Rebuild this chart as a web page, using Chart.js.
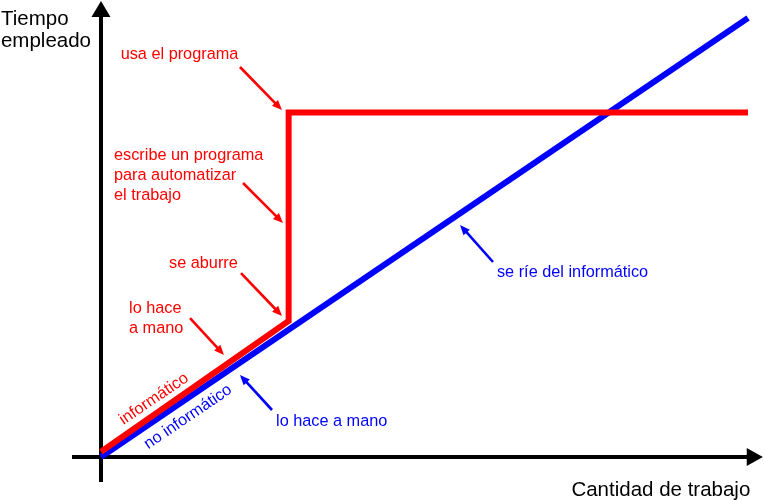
<!DOCTYPE html>
<html><head><meta charset="utf-8">
<script src="https://cdn.jsdelivr.net/npm/chart.js@4/dist/chart.umd.min.js"></script>
<style>html,body{margin:0;padding:0;background:#fff}#w{width:764px;height:500px;position:relative}</style>
</head><body><div id="w"><canvas id="c"></canvas></div>
<script>
// Data (arbitrary units: work amount on x, time spent on y)
const programmerWork = [0, 29, 29, 100];
const programmerTime = [1.2, 31, 78.5, 78.5];
const normalWork = [0, 100];
const normalTime = [0, 100];
const seriesNames = ['informático', 'no informático'];
const xTitle = 'Cantidad de trabajo';
const yTitle = ['Tiempo', 'empleado'];

// Annotations (data coordinates)
const redNotes = [
  {lines: ['usa el programa'], x: 3.04, y: 90.66, arrow: [21.48, 88.84, 27.97, 79.04]},
  {lines: ['escribe un programa', 'para automatizar', 'el trabajo'], x: 2.01, y: 67.65, arrow: [21.95, 62.41, 28.13, 53.30]},
  {lines: ['se aburre'], x: 10.51, y: 43.05, arrow: [21.64, 41.91, 27.98, 32.12]},
  {lines: ['lo hace', 'a mano'], x: 4.33, y: 32.80, arrow: [13.76, 31.66, 19.01, 23.23]}
];
const blueNotes = [
  {lines: ['lo hace a mano'], x: 27.05, y: 7.06, arrow: [26.43, 10.71, 21.48, 18.68]},
  {lines: ['se ríe del informático'], x: 61.2, y: 41.0, arrow: [60.59, 44.42, 55.49, 52.85]}
];
const RED = '#ff0000', BLUE = '#0000ff';
const FONT = '"Liberation Sans", Arial, sans-serif';

function toXY(xs, ys) { return xs.map((v, i) => ({x: v, y: ys[i]})); }

function arrow(ctx, x1, y1, x2, y2, color) {
  const a = Math.atan2(y2 - y1, x2 - x1);
  const hl = 10, hw = 4.2;
  const bx = x2 - hl * Math.cos(a), by = y2 - hl * Math.sin(a);
  ctx.save();
  ctx.strokeStyle = color; ctx.fillStyle = color; ctx.lineWidth = 2.6;
  ctx.beginPath(); ctx.moveTo(x1, y1); ctx.lineTo(bx + Math.cos(a), by + Math.sin(a)); ctx.stroke();
  ctx.beginPath();
  ctx.moveTo(x2, y2);
  ctx.lineTo(bx + hw * Math.sin(a), by - hw * Math.cos(a));
  ctx.lineTo(bx - hw * Math.sin(a), by + hw * Math.cos(a));
  ctx.closePath(); ctx.fill();
  ctx.restore();
}

const decor = {
  id: 'decor',
  beforeDatasetsDraw(chart) {
    const {ctx, scales: {x, y}} = chart;
    const px = v => x.getPixelForValue(v), py = v => y.getPixelForValue(v);
    ctx.save();
    ctx.strokeStyle = '#000'; ctx.fillStyle = '#000'; ctx.lineWidth = 4; ctx.lineCap = 'butt';
    // x axis
    const ox = px(0), oy = py(0);
    const xTip = px(102.3), xBase = px(99.8);
    ctx.beginPath(); ctx.moveTo(px(-4.48), oy); ctx.lineTo(xBase + 1, oy); ctx.stroke();
    ctx.beginPath(); ctx.moveTo(xTip, oy); ctx.lineTo(xBase, oy - 9); ctx.lineTo(xBase, oy + 9); ctx.closePath(); ctx.fill();
    // y axis
    const yTip = py(103.9), yBase = py(100.2);
    ctx.beginPath(); ctx.moveTo(ox, py(-5.7)); ctx.lineTo(ox, yBase - 1); ctx.stroke();
    ctx.beginPath(); ctx.moveTo(ox, yTip); ctx.lineTo(ox - 9.5, yBase); ctx.lineTo(ox + 9.5, yBase); ctx.closePath(); ctx.fill();
    // titles
    ctx.font = '20.5px ' + FONT; ctx.textBaseline = 'alphabetic'; ctx.textAlign = 'left';
    ctx.fillText(yTitle[0], px(-15.46), py(98.4));
    ctx.fillText(yTitle[1], px(-15.46), py(93.4));
    ctx.fillText(xTitle, px(72.7), py(-8.88));
    ctx.restore();
  },
  afterDatasetsDraw(chart) {
    const {ctx, scales: {x, y}} = chart;
    const px = v => x.getPixelForValue(v), py = v => y.getPixelForValue(v);
    ctx.save();
    ctx.font = '16.3px ' + FONT; ctx.textBaseline = 'alphabetic'; ctx.textAlign = 'left';
    const drawNotes = (notes, color) => notes.forEach(n => {
      ctx.fillStyle = color;
      n.lines.forEach((l, i) => ctx.fillText(l, px(n.x), py(n.y) + i * 20));
      arrow(ctx, px(n.arrow[0]), py(n.arrow[1]), px(n.arrow[2]), py(n.arrow[3]), color);
    });
    drawNotes(redNotes, RED);
    drawNotes(blueNotes, BLUE);
    // rotated series labels along the lines
    const ang = Math.atan2(py(100) - py(0), px(100) - px(0));
    const rot = (txt, cx, cy, color) => {
      ctx.save(); ctx.translate(px(cx), py(cy)); ctx.rotate(ang);
      ctx.fillStyle = color; ctx.textAlign = 'center'; ctx.textBaseline = 'middle';
      ctx.fillText(txt, 0, 0); ctx.restore();
    };
    rot(seriesNames[0], 8.19, 13.21, RED);
    rot(seriesNames[1], 13.45, 9.11, BLUE);
    ctx.restore();
  }
};

new Chart(document.getElementById('c'), {
  type: 'scatter',
  data: {
    datasets: [
      {label: seriesNames[0], data: toXY(programmerWork, programmerTime), showLine: true,
       borderColor: RED, backgroundColor: RED, borderWidth: 6, pointRadius: 0, tension: 0,
       borderJoinStyle: 'miter', borderCapStyle: 'butt', fill: false},
      {label: seriesNames[1], data: toXY(normalWork, normalTime), showLine: true,
       borderColor: BLUE, backgroundColor: BLUE, borderWidth: 6, pointRadius: 0, tension: 0,
       borderCapStyle: 'butt', fill: false}
    ]
  },
  options: {
    responsive: true, maintainAspectRatio: false, animation: false,
    layout: {padding: 0},
    plugins: {legend: {display: false}, tooltip: {enabled: false}, title: {display: false}},
    scales: {
      x: {type: 'linear', display: false, min: -15.61, max: 102.47},
      y: {type: 'linear', display: false, min: -9.79, max: 104.1}
    },
    events: []
  },
  plugins: [decor]
});
</script></body></html>
